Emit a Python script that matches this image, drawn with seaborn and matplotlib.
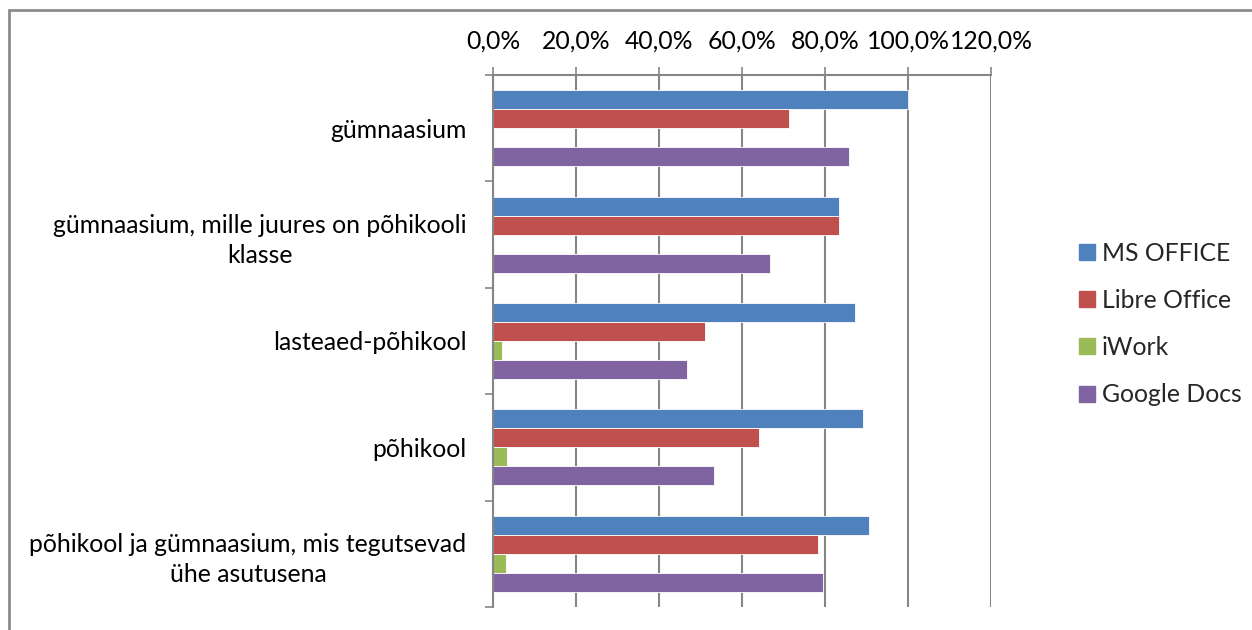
import matplotlib
matplotlib.use("Agg")
import matplotlib.pyplot as plt
import seaborn as sns
import pandas as pd
from matplotlib.ticker import FuncFormatter, FixedLocator
from matplotlib.lines import Line2D

categories = [
    "gümnaasium",
    "gümnaasium, mille juures on põhikooli\nklasse",
    "lasteaed-põhikool",
    "põhikool",
    "põhikool ja gümnaasium, mis tegutsevad\nühe asutusena",
]
series = ["MS OFFICE", "Libre Office", "iWork", "Google Docs"]
ms_office = [1.000, 0.833, 0.872, 0.891, 0.907]
libre_office = [0.714, 0.833, 0.511, 0.641, 0.784]
iwork = [0.0, 0.0, 0.021, 0.033, 0.031]
google_docs = [0.857, 0.667, 0.468, 0.533, 0.794]
colors = ["#4F81BD", "#C0504D", "#9BBB59", "#8064A2"]
x_ticks = [0.0, 0.2, 0.4, 0.6, 0.8, 1.0, 1.2]

rows = []
for name, vals in zip(series, [ms_office, libre_office, iwork, google_docs]):
    for c, v in zip(categories, vals):
        rows.append({"category": c, "series": name, "value": v})
df = pd.DataFrame(rows)

sns.set_style("white")
plt.rcParams["font.family"] = ["Lato", "DejaVu Sans"]
FS = 17.8

fig = plt.figure(figsize=(12.52, 6.30), dpi=100)
ax = fig.add_axes([493 / 1252, 1 - 607 / 630, (991 - 493) / 1252, (607 - 75) / 630])

sns.barplot(data=df, y="category", x="value", hue="series", order=categories,
            hue_order=series, palette=colors, orient="h", width=0.715,
            edgecolor="white", linewidth=0.6, ax=ax, legend=False, saturation=1)

ax.set_xlim(0, 1.2)
ax.set_ylim(len(categories) - 0.5, -0.5)
ax.xaxis.tick_top()
ax.set_xticks(x_ticks)
ax.xaxis.set_major_formatter(FuncFormatter(lambda v, p: f"{v*100:.1f}%".replace(".", ",")))
ax.tick_params(axis="x", which="major", direction="out", length=6, width=1.2,
               color="#868686", labelsize=FS, pad=10.5, labelcolor="black")
ax.grid(axis="x", color="#868686", linewidth=1.5)
ax.set_axisbelow(True)

ax.yaxis.set_minor_locator(FixedLocator([i - 0.5 for i in range(len(categories) + 1)]))
ax.tick_params(axis="y", which="major", length=0, labelsize=FS, pad=19, labelcolor="black")
ax.tick_params(axis="y", which="minor", direction="out", length=6, width=1.2, color="#868686", left=True)
for lab in ax.get_yticklabels():
    lab.set_multialignment("center")
    lab.set_linespacing(1.4)

ax.set_xlabel("")
ax.set_ylabel("")
for s in ["right", "bottom"]:
    ax.spines[s].set_visible(False)
for s in ["top", "left"]:
    ax.spines[s].set_color("#868686")
    ax.spines[s].set_linewidth(1.5)

handles = [Line2D([0], [0], marker="s", linestyle="none", markersize=11,
                  markerfacecolor=c, markeredgecolor=c) for c in colors]
fig.legend(handles, series, loc="center left", bbox_to_anchor=(1066 / 1252, 1 - 324 / 630),
           frameon=False, fontsize=FS, handlelength=0.7, handletextpad=0.25,
           labelspacing=0.98, borderpad=0)

# outer chart frame (top and left edges)
fig.add_artist(Line2D([9 / 1252, 1.0], [1 - 10 / 630, 1 - 10 / 630], color="#8c8c8c", linewidth=2))
fig.add_artist(Line2D([9 / 1252, 9 / 1252], [0, 1 - 10 / 630], color="#8c8c8c", linewidth=2))

fig.savefig("out.png", dpi=100, facecolor="white")
